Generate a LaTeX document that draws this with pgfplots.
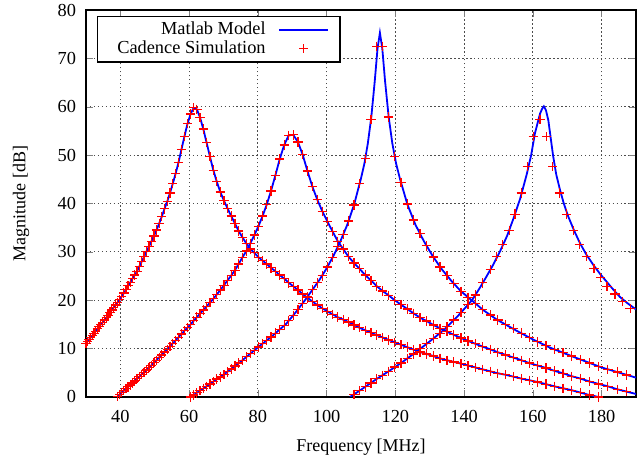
\documentclass[border=0pt]{standalone}
\usepackage{fontspec}
\setmainfont{Liberation Serif}
\usepackage{pgfplots}
\usepackage{pgfplotstable}
\pgfplotsset{compat=1.18}

\tikzset{
  mat/.style={blue, line width=1pt},
  cad/.style={red, only marks, mark=+, mark size=2.6pt, line width=0.7pt},
}

% simulated sweep (log spaced), one column per resonator
\pgfplotstableread{
f c1 c2 c3
30.00 11.1 nan nan
30.45 11.5 nan nan
30.91 11.9 nan nan
31.37 12.3 nan nan
31.84 12.7 nan nan
32.32 13.2 nan nan
32.80 13.6 nan nan
33.30 14.1 nan nan
33.80 14.5 nan nan
34.30 15.0 nan nan
34.82 15.4 nan nan
35.34 15.9 nan nan
35.87 16.4 nan nan
36.41 16.9 nan nan
36.95 17.4 nan nan
37.51 18.0 nan nan
38.07 18.5 nan nan
38.64 19.0 -0.2 nan
39.22 19.6 0.1 nan
39.81 20.1 0.5 nan
40.41 20.8 0.9 nan
41.01 21.5 1.3 nan
41.63 22.2 1.7 nan
42.25 23.0 2.1 nan
42.89 23.7 2.5 nan
43.53 24.5 2.9 nan
44.18 25.2 3.3 nan
44.85 26.0 3.8 nan
45.52 27.0 4.2 nan
46.20 28.0 4.7 nan
46.90 29.0 5.1 nan
47.60 30.1 5.6 nan
48.31 31.1 6.1 nan
49.04 32.2 6.55 nan
49.77 33.3 7.1 nan
50.52 34.5 7.6 nan
51.28 35.9 8.2 nan
52.05 37.3 8.7 nan
52.83 38.9 9.3 nan
53.62 40.4 9.85 nan
54.43 42.2 10.5 nan
55.24 44.1 11.1 nan
56.07 46.2 11.7 nan
56.91 48.5 12.35 nan
57.77 51.2 13.0 nan
58.64 53.9 13.7 nan
59.52 56.5 14.3 nan
60.41 58.5 15.0 0.0
61.32 59.8 15.75 0.4
62.24 59.5 16.5 0.85
63.17 57.8 17.2 1.3
64.12 55.4 18.0 1.8
65.08 52.6 18.7 2.2
66.05 49.7 19.5 2.7
67.04 46.9 20.3 3.2
68.05 44.5 21.2 3.7
69.07 42.4 22.1 4.15
70.11 40.6 23.1 4.65
71.16 39.0 24.1 5.2
72.23 37.4 25.1 5.8
73.31 35.9 26.2 6.4
74.41 34.3 27.5 7.0
75.53 33.0 28.9 7.6
76.66 31.7 30.2 8.3
77.81 30.6 31.8 9.0
78.98 29.8 33.5 9.65
80.16 28.9 35.3 10.35
81.36 28.2 37.4 11.05
82.58 27.5 39.8 11.7
83.82 26.7 42.6 12.4
85.08 26.0 45.8 13.2
86.36 25.2 49.2 13.95
87.65 24.5 52.1 14.75
88.97 23.6 54.1 15.75
90.30 22.9 54.2 16.9
91.66 22.1 52.7 18.1
93.03 21.3 50.1 19.4
94.43 20.5 46.7 20.7
95.85 19.75 43.5 22.15
97.28 19.0 40.8 23.6
98.74 18.35 38.4 25.05
100.22 17.7 36.3 26.9
101.73 17.1 34.2 28.85
103.25 16.5 32.2 31.1
104.80 16.0 30.6 33.6
106.37 15.5 29.0 36.4
107.97 14.9 27.7 39.7
109.59 14.3 26.5 44.1
111.23 13.8 25.2 49.3
112.90 13.3 24.1 57.4
114.59 12.8 22.9 72.5
116.31 12.3 21.9 72.5
118.06 11.8 21.0 57.9
119.83 11.3 20.0 49.7
121.63 10.8 19.1 44.4
123.45 10.3 18.2 39.9
125.30 9.8 17.3 36.6
127.18 9.3 16.4 33.75
129.09 8.9 15.7 31.25
131.03 8.45 14.9 28.95
132.99 8.0 14.2 26.9
134.99 7.6 13.5 25.1
137.01 7.25 12.85 23.45
139.07 6.9 12.2 21.85
141.15 6.5 11.6 20.6
143.27 6.1 11.0 19.35
145.42 5.7 10.4 18.05
147.60 5.3 9.85 16.95
149.81 4.9 9.25 15.9
152.06 4.6 8.7 15.0
154.34 4.2 8.15 14.1
156.66 3.8 7.6 13.2
159.01 3.45 7.0 12.3
161.39 3.1 6.5 11.4
163.81 2.65 6.0 10.6
166.27 2.2 5.4 9.85
168.76 1.8 4.9 9.15
171.29 1.4 4.3 8.45
173.86 0.9 3.8 7.75
176.47 0.4 3.2 7.05
179.12 0.0 2.7 6.35
181.81 nan 2.2 5.7
184.53 nan 1.6 5.15
187.30 nan 1.1 4.55
190.11 nan 0.6 4.0
}\sweep

% model, third resonator
\pgfplotstableread{
f m
60.5 0
65 2.2
70 4.6
75 7.3
79.9 10.2
84 12.5
88.2 15.1
91 17.5
93.8 20.1
96 22.3
97.9 24.2
100 26.6
102 29.2
104 32.2
106 35.6
108 39.8
110 45.2
111 48.3
112 52.5
113 57.9
114 65.3
114.8 72.0
115.5 75.3
116.2 72.0
117.0 65.3
118.05 57.9
119.1 52.5
120.2 48.3
121.3 45.2
123.5 39.8
125.85 35.6
128.3 32.2
130.8 29.2
133.4 26.5
136.3 24.0
139 21.9
142.2 20.0
145.5 18.0
149.5 16.0
155 13.8
160 11.9
165 10.2
171.8 8.3
180 6.1
190 4.0
}\modelC

% model, fourth resonator
\pgfplotstableread{
f m
106.8 0
110 1.5
114.5 3.7
118 5.3
122 7.2
126.2 9.4
130 11.5
134 13.8
138 16.6
142.3 20.0
144.6 22.6
146.5 24.9
148.5 27.4
150.5 30.2
152.5 33.3
154.3 36.8
156.3 41.0
158.2 46.0
159.5 50.0
160.6 54.5
161.5 57.0
162.1 58.6
162.7 59.6
163.2 60.1
163.8 59.3
164.5 57.2
165.2 53.5
165.9 49.8
166.8 46.0
167.9 42.8
169 40.0
170.3 37.3
172 34.4
173.7 31.8
175.6 29.4
177.6 27.3
179.5 25.5
181.5 23.8
183.4 22.2
185.3 20.7
187.5 19.4
190 18.1
}\modelD

% simulation, fourth resonator
\pgfplotstableread{
f s
107.97 0.55
109.59 1.3
111.23 2.1
112.90 2.9
114.59 3.75
116.31 4.5
118.06 5.3
119.83 6.2
121.63 7.0
123.45 7.95
125.30 8.9
127.18 9.95
129.09 11.0
131.03 12.1
132.99 13.2
134.99 14.5
137.01 15.9
139.07 17.45
141.15 19.1
143.27 21.1
145.42 23.6
147.60 26.3
149.5 29.0
151.2 31.5
153.1 34.4
154.8 37.8
156.6 42.2
158.4 47.6
160.1 53.8
162.1 57.4
164.0 53.8
165.8 47.6
167.7 42.2
169.8 37.8
171.8 34.4
173.5 31.5
175.6 29.0
177.8 26.6
179.7 24.7
181.6 22.9
183.9 21.3
186.1 19.8
188.3 18.3
}\simD

\begin{document}
\begin{tikzpicture}
\begin{axis}[
    name=ax,
    scale only axis,
    width=305.6pt, height=215pt,
    xmin=30, xmax=190, ymin=0, ymax=80,
    xtick={40,60,...,180},
    ytick={0,10,...,80},
    tick align=inside,
    major tick length=4pt,
    grid=major,
    grid style={black!70, line width=0.5pt, dash pattern=on 0.8pt off 1.4pt},
    axis line style={line width=0.8pt},
    /pgf/number format/assume math mode=true,
    tick label style={font=\fontsize{10.2}{12}\selectfont},
    xticklabel style={yshift=-3.8pt},
    yticklabel style={xshift=-2pt},
    xlabel={Frequency [MHz]},
    ylabel={Magnitude [dB]},
    label style={font=\fontsize{10.5}{12}\selectfont},
    every axis x label/.style={at={(axis description cs:0.5,0)}, yshift=-27.7pt, anchor=center},
    every axis y label/.style={at={(axis description cs:-0.118,0.5)}, rotate=90, anchor=center},
    legend style={at={(0.0195,0.985)}, anchor=north west, draw=black,
        line width=0.8pt, fill=white, cells={anchor=east},
        font=\fontsize{10.2}{12}\selectfont,
        inner xsep=6pt, inner ysep=1pt, row sep=-2pt},
    legend plot pos=right,
    /tikz/every odd column/.append style={column sep=5pt},
    legend image code/.code={\draw[mark repeat=2,mark phase=2,#1]
        plot coordinates {(0cm,0cm) (0.48cm,0cm) (0.96cm,0cm)};},
]
\addlegendimage{mat}
\addlegendentry{Matlab Model}
\addlegendimage{cad}
\addlegendentry{\hspace*{3pt}Cadence Simulation}

\addplot[mat, forget plot] table[x=f, y=c1] {\sweep};
\addplot[mat, forget plot] table[x=f, y=c2] {\sweep};
\addplot[mat, forget plot] table[x=f, y=m] {\modelC};
\addplot[mat, forget plot] table[x=f, y=m] {\modelD};

\addplot[cad, forget plot] table[x=f, y=c1] {\sweep};
\addplot[cad, forget plot] table[x=f, y=c2] {\sweep};
\addplot[cad, forget plot] table[x=f, y=c3] {\sweep};
\addplot[cad, forget plot] table[x=f, y=s] {\simD};
\end{axis}
\pgfresetboundingbox
\path[use as bounding box] ([shift={(-47.8pt,-33.3pt)}]ax.south west) rectangle ([shift={(3.9pt,5.6pt)}]ax.north east);
\end{tikzpicture}
\end{document}
